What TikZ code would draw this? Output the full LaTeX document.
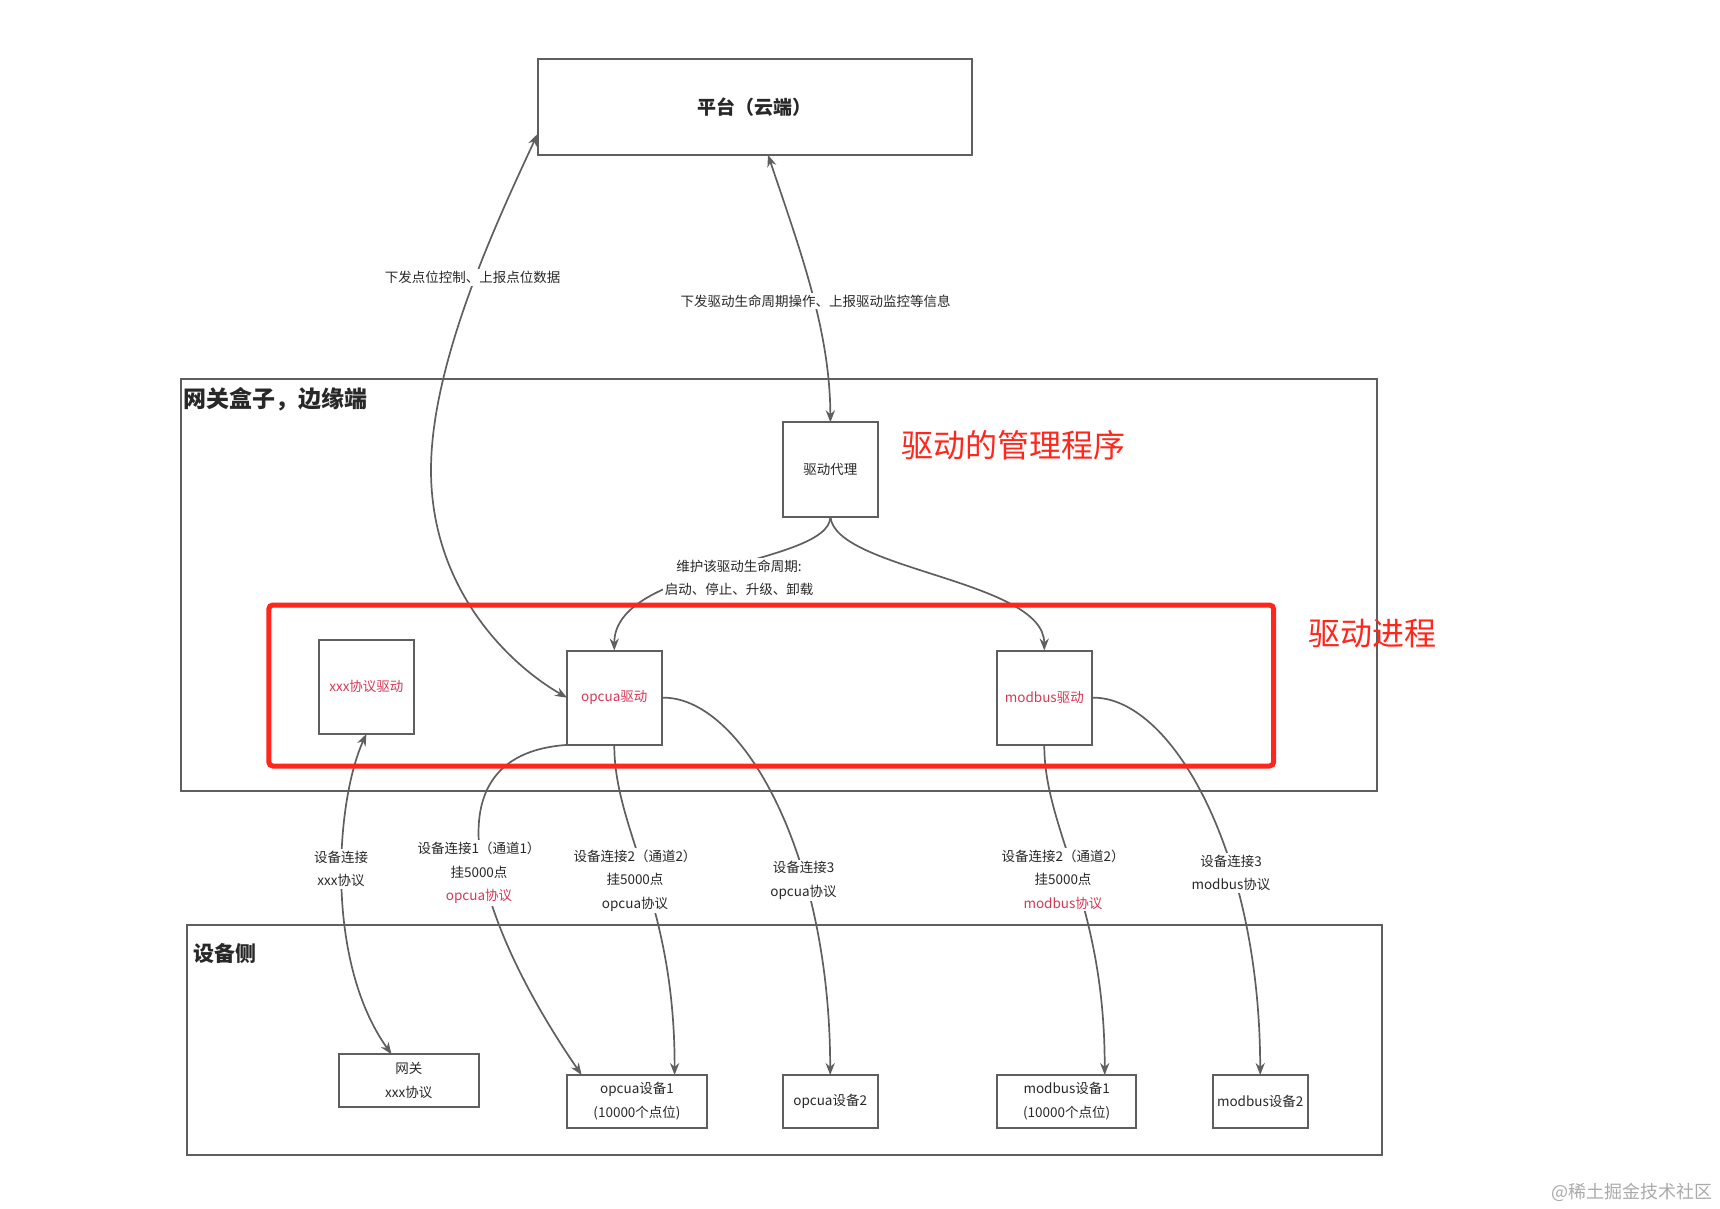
\documentclass[tikz,border=0pt]{standalone}
\usepackage{fontspec}
\setmainfont{Noto Sans CJK SC}
\usetikzlibrary{arrows.meta}
\definecolor{edgegray}{RGB}{95,95,95}
\definecolor{txt}{RGB}{40,40,40}
\definecolor{drvred}{RGB}{214,56,86}
\definecolor{bigred}{RGB}{255,38,28}
\definecolor{wmgray}{RGB}{170,170,170}
\tikzset{
  box/.style={draw=edgegray, line width=1pt, fill=white, inner sep=0pt, outer sep=0pt,
    text=txt, font=\fontsize{6.75}{12}\selectfont, align=center},
  container/.style={draw=edgegray, line width=1pt, inner sep=0pt, outer sep=0pt},
  conn/.style={draw=edgegray, line width=0.85pt},
  tipend/.style={-{Stealth[length=6pt,width=4.6pt]}},
  tipboth/.style={{Stealth[length=6pt,width=4.6pt]}-{Stealth[length=6pt,width=4.6pt]}},
  lbl/.style={fill=white, inner sep=1pt, text=txt, font=\fontsize{6.75}{11.7}\selectfont, align=center},
  bigtext/.style={text=bigred, font=\fontsize{16}{18}\selectfont, inner sep=0pt, anchor=west},
  titletext/.style={text=txt, font=\bfseries, inner sep=0pt, anchor=west},
}
\begin{document}
\begin{tikzpicture}[x=0.5pt,y=-0.5pt]
\useasboundingbox (0,0) rectangle (1720,1209);

% containers
\node[container, minimum width=597.85pt, minimum height=205.75pt] (gwbox) at (778.85,585.25) {};
\node[container, minimum width=597.85pt, minimum height=115.2pt] (devbox) at (784.35,1039.9) {};
\node[titletext, font=\bfseries\fontsize{11.5}{13}\selectfont] (gwtitle) at (183,399) {网关盒子，边缘端};
\node[titletext, font=\bfseries\fontsize{10.5}{12}\selectfont] (devtitle) at (193,953) {设备侧};

% main nodes
\node[box, minimum width=217.2pt, minimum height=47.75pt, font=\bfseries\fontsize{9.5}{11}\selectfont] (plat) at (754.7,107) {平台（云端）};
\node[box, minimum width=47.2pt, minimum height=47.2pt] (daili) at (830.4,469.5) {驱动代理};
\node[box, minimum width=47.2pt, minimum height=47.2pt, text=drvred] (xxx) at (366.4,686.7) {xxx协议驱动};
\node[box, minimum width=47.2pt, minimum height=47.2pt, text=drvred] (opcua) at (614.3,697.7) {opcua驱动};
\node[box, minimum width=47.2pt, minimum height=47.2pt, text=drvred] (modbus) at (1044.3,697.7) {modbus驱动};

\node[box, minimum width=69.75pt, minimum height=26.5pt] (gw) at (408.8,1080.8) {网关\\xxx协议};
\node[box, minimum width=69.75pt, minimum height=26.5pt] (od1) at (637,1101.5) {opcua设备1\\(10000个点位)};
\node[box, minimum width=47.7pt, minimum height=26.5pt] (od2) at (830.2,1101.5) {opcua设备2};
\node[box, minimum width=69.75pt, minimum height=26.5pt] (md1) at (1066.7,1101.5) {modbus设备1\\(10000个点位)};
\node[box, minimum width=47.7pt, minimum height=26.5pt] (md2) at (1260.2,1101.5) {modbus设备2};

% connectors
\draw[conn,tipboth] ([yshift=10.35pt]plat.south west) .. controls (500,215) and (431,360) .. (431,470)
   .. controls (431,590) and (510,665) .. (opcua.west);
\draw[conn,tipboth] ([xshift=6.65pt]plat.south) .. controls (800,250) and (830,330) .. (daili.north);
\draw[conn,tipend] (daili.south) .. controls (830,565) and (614,565) .. (opcua.north);
\draw[conn,tipend] (daili.south) .. controls (835,570) and (1044,580) .. (modbus.north);
\draw[conn,tipboth] (xxx.south) .. controls (336,800) and (324,960) .. ([xshift=-8.6pt]gw.north);
\draw[conn,tipend] (opcua.south west) .. controls (418,755) and (482,930) .. ([xshift=7.2pt]od1.north west);
\draw[conn,tipend] (opcua.south) .. controls (614,830) and (675,900) .. ([xshift=18.8pt]od1.north);
\draw[conn,tipend] (opcua.east) .. controls (740,695) and (830,850) .. (od2.north);
\draw[conn,tipend] (modbus.south) .. controls (1044,830) and (1105,900) .. ([xshift=19pt]md1.north);
\draw[conn,tipend] (modbus.east) .. controls (1170,695) and (1260,850) .. (md2.north);

% connector labels
\node[lbl] (l1) at (472.5,277.5) {下发点位控制、上报点位数据};
\node[lbl] (l2) at (815.7,301) {下发驱动生命周期操作、上报驱动监控等信息};
\node[lbl, font=\fontsize{6.75}{11.2}\selectfont] (l3) at (739,578) {维护该驱动生命周期:\\启动、停止、升级、卸载};
\node[lbl] (l5) at (341,869) {设备连接\\xxx协议};
\node[lbl] (l6) at (479,873) {设备连接1（通道1）\\挂5000点\\{\color{drvred}opcua协议}};
\node[lbl] (l7) at (635,880.5) {设备连接2（通道2）\\挂5000点\\opcua协议};
\node[lbl] (l8) at (803.5,880.5) {设备连接3\\opcua协议};
\node[lbl] (l9) at (1063,879.5) {设备连接2（通道2）\\挂5000点\\{\color{drvred}modbus协议}};
\node[lbl] (l10) at (1231,873) {设备连接3\\modbus协议};

% red process frame and red notes
\node[draw=bigred, line width=2.5pt, rounded corners=2pt, inner sep=0pt,
      minimum width=502.4pt, minimum height=80.5pt] (redbox) at (771.2,685.5) {};
\node[bigtext] (mgr) at (901,445) {驱动的管理程序};
\node[bigtext] (proc) at (1308,634) {驱动进程};

% watermark
\node[text=wmgray, font=\fontsize{9}{10}\selectfont, inner sep=0pt, anchor=east] (wm) at (1713,1192) {@稀土掘金技术社区};
\end{tikzpicture}
\end{document}
